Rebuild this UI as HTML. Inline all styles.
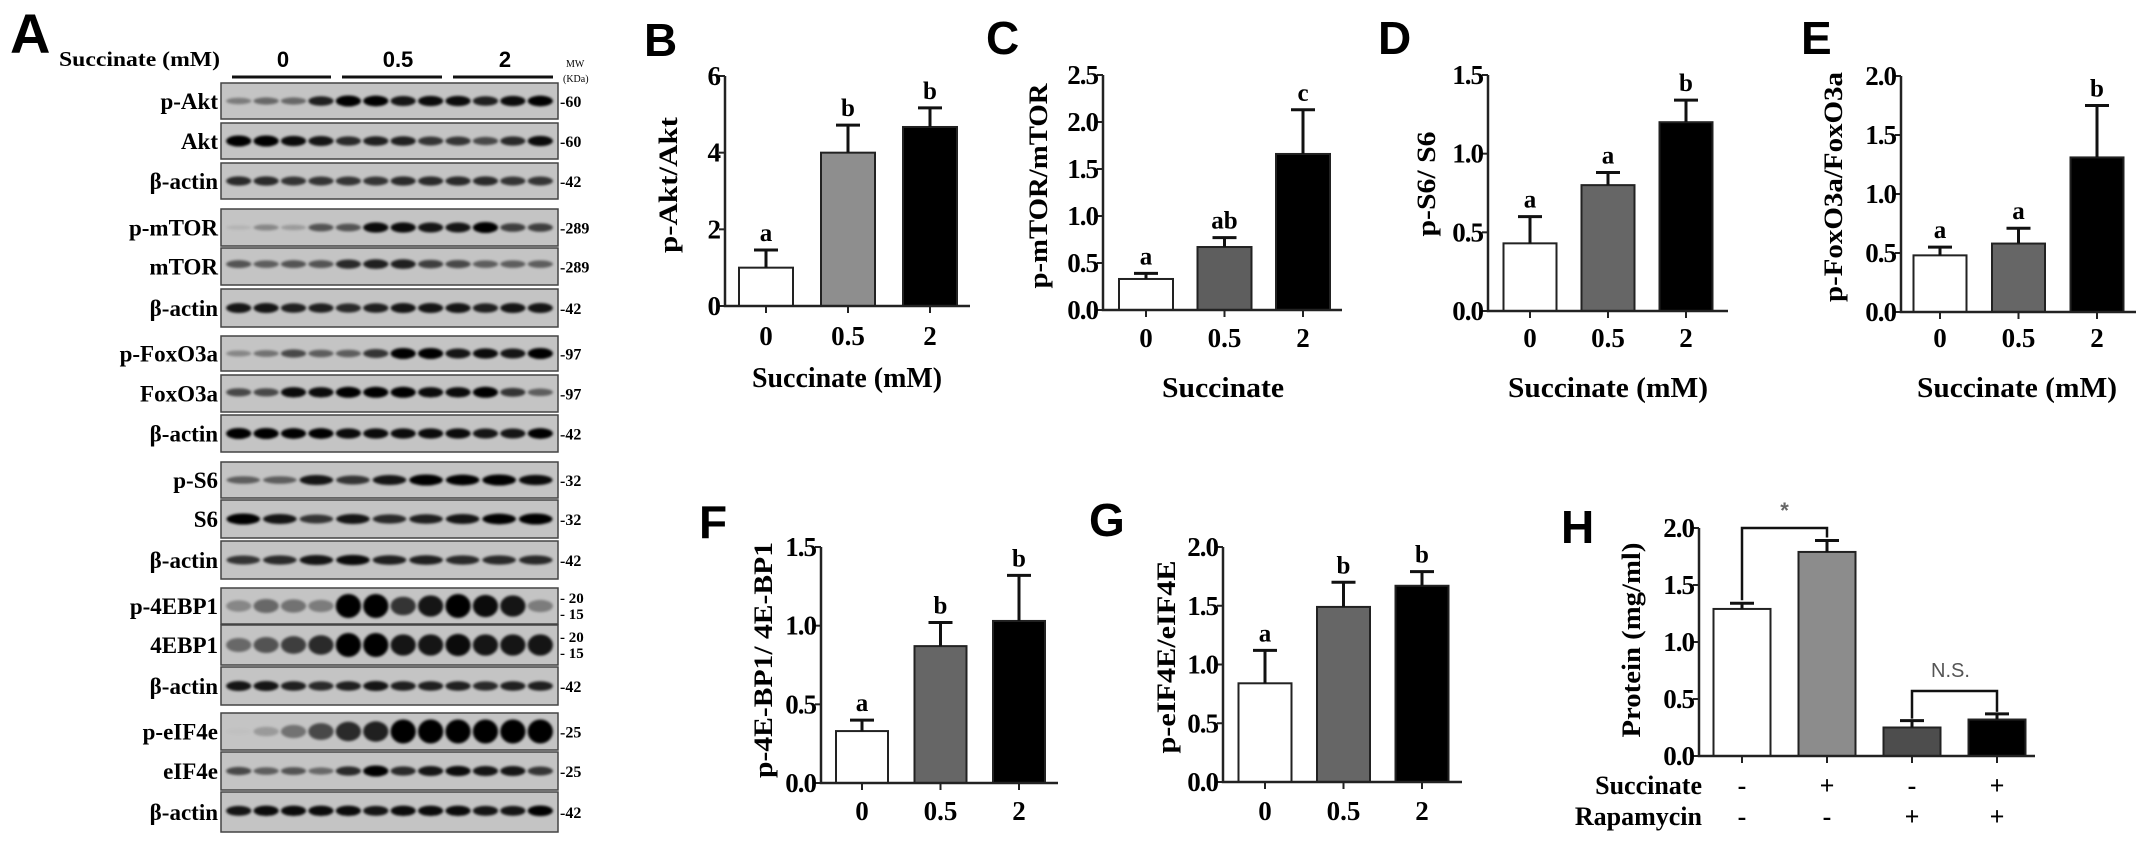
<!DOCTYPE html>
<html><head><meta charset="utf-8"><style>
html,body{margin:0;padding:0;background:#fff;}
svg{display:block;}
.serif{font-family:"Liberation Serif",serif;font-weight:bold;}
.sans{font-family:"Liberation Sans",sans-serif;font-weight:bold;}
</style></head><body>
<svg id="fig" width="2150" height="848" viewBox="0 0 2150 848" xmlns="http://www.w3.org/2000/svg">
<defs><filter id="blur" x="-20%" y="-80%" width="140%" height="260%"><feGaussianBlur stdDeviation="1.4"/></filter></defs>
<g id="blot"></g>
<g id="charts"></g>
</svg>
<script>
const NS="http://www.w3.org/2000/svg";
function mk(tag,attrs,parent,txt){const e=document.createElementNS(NS,tag);for(const k in attrs)e.setAttribute(k,attrs[k]);if(txt!==undefined)e.textContent=txt;parent.appendChild(e);return e;}

/* ---------- Chart data ---------- */
const doseCategories=["0","0.5","2"];
const bValues=[1.0,4.0,4.67];
const bErrors=[1.46,4.72,5.17];
const bLetters=["a","b","b"];
const bTicks=[0,2,4,6];
const bTickLabels=["0","2","4","6"];

const cValues=[0.33,0.67,1.66];
const cErrors=[0.39,0.77,2.13];
const cLetters=["a","ab","c"];
const cTicks=[0,0.5,1,1.5,2,2.5];
const cTickLabels=["0.0","0.5","1.0","1.5","2.0","2.5"];

const dValues=[0.43,0.80,1.20];
const dErrors=[0.60,0.88,1.34];
const dLetters=["a","a","b"];
const dTicks=[0,0.5,1,1.5];
const dTickLabels=["0.0","0.5","1.0","1.5"];

const eValues=[0.48,0.58,1.31];
const eErrors=[0.55,0.71,1.75];
const eLetters=["a","a","b"];
const eTicks=[0,0.5,1,1.5,2];
const eTickLabels=["0.0","0.5","1.0","1.5","2.0"];

const fValues=[0.33,0.87,1.03];
const fErrors=[0.40,1.02,1.32];
const fLetters=["a","b","b"];
const fTicks=[0,0.5,1,1.5];
const fTickLabels=["0.0","0.5","1.0","1.5"];

const gValues=[0.84,1.49,1.67];
const gErrors=[1.12,1.70,1.79];
const gLetters=["a","b","b"];
const gTicks=[0,0.5,1,1.5,2];
const gTickLabels=["0.0","0.5","1.0","1.5","2.0"];

const hCategories=["ctrl","succ","rapa","succ+rapa"];
const hValues=[1.29,1.79,0.25,0.32];
const hErrors=[1.34,1.89,0.31,0.37];
const hSuccinate=["-","+","-","+"];
const hRapamycin=["-","-","+","+"];
const hTicks=[0,0.5,1,1.5,2];
const hTickLabels=["0.0","0.5","1.0","1.5","2.0"];

const charts=document.getElementById('charts');

function drawChart(o){
  const g=mk('g',{},charts);
  
  
  const yMax=o.ticks[o.ticks.length-1];
  const ys=v=>o.y0-(v/yMax)*(o.y0-o.yTop);
  const xs=i=>o.c0+i*o.step;
  const L=mk('text',{x:o.letterX,y:o.letterY,class:'sans','font-size':46},g,o.letter);
  
  
  o.values.forEach((v,i)=>{
    const cx=xs(i);
    const r=mk('rect',{x:cx-o.bw/2,y:ys(v),width:o.bw,height:o.y0-ys(v),fill:o.colors[i],stroke:'#222','stroke-width':2},g);
    
    
    const ey=ys(o.errors[i]);
    const el=mk('path',{d:`M${cx},${ys(v)}V${ey}M${cx-12},${ey}H${cx+12}`,stroke:'#111','stroke-width':3,fill:'none'},g);
    
    
    if(o.letters){
      const t=mk('text',{x:cx,y:ey-9,'text-anchor':'middle',class:'serif','font-size':25},g,o.letters[i]);
      
      
    }
    mk('line',{x1:cx,y1:o.y0,x2:cx,y2:o.y0+7,stroke:'#222','stroke-width':2},g);
    if(o.cats){
      const t=mk('text',{x:cx,y:o.tickLabelY,'text-anchor':'middle',class:'serif','font-size':27},g,o.cats[i]);
      
      
    }
  });
  const ax=mk('path',{d:`M${o.axisX},${ys(yMax)}V${o.y0}H${o.axisEnd}`,stroke:'#222','stroke-width':2.5,fill:'none'},g);
  
  
  o.ticks.forEach((t,i)=>{
    mk('line',{x1:o.axisX-6,y1:ys(t),x2:o.axisX,y2:ys(t),stroke:'#222','stroke-width':2},g);
    const tl=mk('text',{x:o.axisX-5,y:ys(t)+9,'text-anchor':'end',class:'serif','font-size':27,'letter-spacing':'-1'},g,o.tickLabels[i]);
    
    
  });
  const yt=mk('text',{x:0,y:0,'text-anchor':'middle',class:'serif','font-size':26,transform:`translate(${o.ylx},${o.yly}) rotate(-90)`,textLength:o.ylLen,lengthAdjust:'spacingAndGlyphs'},g,o.ylabel);
  
  
  if(o.xlabel){
    const xt=mk('text',{x:o.xlx,y:o.xly,'text-anchor':'middle',class:'serif','font-size':28,textLength:o.xlLen,lengthAdjust:'spacingAndGlyphs'},g,o.xlabel);
    
    
  }
  return {g,xs,ys};
}

drawChart({name:'chart-b-pakt',letter:'B',letterX:644,letterY:56,values:bValues,errors:bErrors,letters:bLetters,cats:doseCategories,ticks:bTicks,tickLabels:bTickLabels,
  axisX:725,y0:306,yTop:76,c0:766,step:82,bw:54,axisEnd:970,tickLabelY:345,colors:['#fff','#8e8e8e','#000'],
  ylabel:'p-Akt/Akt',ylx:677,yly:185,ylLen:136,xlabel:'Succinate (mM)',xlx:847,xly:387,xlLen:190});
drawChart({name:'chart-c-pmtor',letter:'C',letterX:986,letterY:54,values:cValues,errors:cErrors,letters:cLetters,cats:doseCategories,ticks:cTicks,tickLabels:cTickLabels,
  axisX:1103,y0:310,yTop:75,c0:1146,step:78.5,bw:54,axisEnd:1342,tickLabelY:347,colors:['#fff','#5e5e5e','#000'],
  ylabel:'p-mTOR/mTOR',ylx:1047,yly:186,ylLen:205,xlabel:'Succinate',xlx:1223,xly:397,xlLen:122});
drawChart({name:'chart-d-ps6',letter:'D',letterX:1378,letterY:54,values:dValues,errors:dErrors,letters:dLetters,cats:doseCategories,ticks:dTicks,tickLabels:dTickLabels,
  axisX:1488,y0:311,yTop:75,c0:1530,step:78,bw:53,axisEnd:1728,tickLabelY:347,colors:['#fff','#666','#000'],
  ylabel:'p-S6/ S6',ylx:1435,yly:184,ylLen:105,xlabel:'Succinate (mM)',xlx:1608,xly:397,xlLen:200});
drawChart({name:'chart-e-pfoxo3a',letter:'E',letterX:1801,letterY:54,values:eValues,errors:eErrors,letters:eLetters,cats:doseCategories,ticks:eTicks,tickLabels:eTickLabels,
  axisX:1901,y0:312,yTop:76,c0:1940,step:78.5,bw:53,axisEnd:2136,tickLabelY:347,colors:['#fff','#666','#000'],
  ylabel:'p-FoxO3a/FoxO3a',ylx:1842,yly:187,ylLen:230,xlabel:'Succinate (mM)',xlx:2017,xly:397,xlLen:200});
drawChart({name:'chart-f-p4ebp1',letter:'F',letterX:699,letterY:538,values:fValues,errors:fErrors,letters:fLetters,cats:doseCategories,ticks:fTicks,tickLabels:fTickLabels,
  axisX:821,y0:783,yTop:547,c0:862,step:78.5,bw:52,axisEnd:1058,tickLabelY:820,colors:['#fff','#666','#000'],
  ylabel:'p-4E-BP1/ 4E-BP1',ylx:772,yly:660,ylLen:236});
drawChart({name:'chart-g-peif4e',letter:'G',letterX:1089,letterY:536,values:gValues,errors:gErrors,letters:gLetters,cats:doseCategories,ticks:gTicks,tickLabels:gTickLabels,
  axisX:1223,y0:782,yTop:547,c0:1265,step:78.5,bw:53,axisEnd:1462,tickLabelY:820,colors:['#fff','#666','#000'],
  ylabel:'p-eIF4E/eIF4E',ylx:1175,yly:657,ylLen:193});
const H=drawChart({name:'chart-h-protein',letter:'H',letterX:1561,letterY:543,values:hValues,errors:hErrors,letters:null,cats:null,ticks:hTicks,tickLabels:hTickLabels,
  axisX:1699,y0:756,yTop:528,c0:1742,step:85,bw:57,axisEnd:2035,tickLabelY:0,colors:['#fff','#8c8c8c','#4d4d4d','#000'],
  ylabel:'Protein (mg/ml)',ylx:1640,yly:640,ylLen:195});
(function(){
  const g=H.g,xs=H.xs,ys=H.ys;
  const b1=mk('path',{d:`M${xs(0)},${ys(hErrors[0])-3}V${ys(2.0)}H${xs(1)}V${ys(hErrors[1])-3}`,stroke:'#111','stroke-width':2.5,fill:'none'},g);
  
  
  const s=mk('text',{x:(xs(0)+xs(1))/2,y:ys(2.0)-10,'text-anchor':'middle',class:'sans','font-size':22,fill:'#666'},g,'*');
  
  
  const top2=ys(Math.max(hErrors[2],hErrors[3])+0.2);
  const b2=mk('path',{d:`M${xs(2)},${ys(hErrors[2])-2}V${top2}H${xs(3)}V${ys(hErrors[3])-2}`,stroke:'#111','stroke-width':2.5,fill:'none'},g);
  
  
  const ns=mk('text',{x:(xs(2)+xs(3))/2-4,y:top2-14,'text-anchor':'middle','font-family':'"Liberation Sans",sans-serif','font-size':20,fill:'#555'},g,'N.S.');
  
  
  const r1=mk('text',{x:1702,y:794,'text-anchor':'end',class:'serif','font-size':26},g,'Succinate');
  
  
  const r2=mk('text',{x:1702,y:825,'text-anchor':'end',class:'serif','font-size':26},g,'Rapamycin');
  
  
  hSuccinate.forEach((v,i)=>{
    const t=mk('text',{x:xs(i),y:794,'text-anchor':'middle',class:'serif','font-size':26},g,v);
    
    
  });
  hRapamycin.forEach((v,i)=>{
    const t=mk('text',{x:xs(i),y:825,'text-anchor':'middle',class:'serif','font-size':26},g,v);
    
    
  });
})();

/* ---------- Western blot panel ---------- */
const blot=document.getElementById('blot');
const blotRows=[
 {label:'p-Akt',y:83,h:36,mw:['60'],b:[0.35,0.45,0.45,0.8,1,0.95,0.85,0.9,0.9,0.8,0.9,0.95]},
 {label:'Akt',y:123,h:36,mw:['60'],b:[1,1,0.9,0.85,0.75,0.8,0.8,0.7,0.7,0.6,0.75,0.9]},
 {label:'β-actin',y:163,h:36,mw:['42'],b:[0.75,0.75,0.7,0.7,0.7,0.7,0.75,0.75,0.75,0.75,0.7,0.7]},
 {label:'p-mTOR',y:209,h:37,mw:['289'],b:[0.08,0.3,0.2,0.55,0.55,0.9,0.9,0.85,0.85,1,0.65,0.65]},
 {label:'mTOR',y:248,h:37,mw:['289'],b:[0.55,0.5,0.55,0.55,0.75,0.8,0.8,0.65,0.6,0.5,0.5,0.5],off:-8},
 {label:'β-actin',y:289,h:38,mw:['42'],b:[0.85,0.85,0.8,0.8,0.75,0.8,0.85,0.85,0.85,0.8,0.85,0.85]},
 {label:'p-FoxO3a',y:336,h:35,mw:['97'],b:[0.3,0.4,0.6,0.5,0.5,0.7,1,1,0.85,0.9,0.85,1]},
 {label:'FoxO3a',y:375,h:37,mw:['97'],b:[0.6,0.6,0.9,0.9,1,1,1,0.9,0.9,1,0.7,0.5],off:-4},
 {label:'β-actin',y:415,h:37,mw:['42'],b:[1,1,0.95,0.95,0.9,0.9,0.9,0.9,0.9,0.85,0.85,0.95]},
 {label:'p-S6',y:462,h:36,mw:['32'],lanes:9,b:[0.5,0.5,0.85,0.7,0.85,1,0.95,1,0.9]},
 {label:'S6',y:500,h:38,mw:['32'],lanes:9,b:[1,0.85,0.7,0.85,0.75,0.8,0.85,0.95,1]},
 {label:'β-actin',y:541,h:38,mw:['42'],lanes:9,b:[0.7,0.75,0.85,0.9,0.8,0.8,0.75,0.75,0.75]},
 {label:'p-4EBP1',y:588,h:36,mw:['20','15'],b:[0.3,0.45,0.4,0.35,1,1,0.7,0.85,1,0.9,0.85,0.35],tall:true},
 {label:'4EBP1',y:625,h:40,mw:['20','15'],b:[0.45,0.55,0.65,0.75,1,1,0.85,0.85,0.9,0.85,0.85,0.85],tall:true},
 {label:'β-actin',y:667,h:38,mw:['42'],b:[0.85,0.85,0.8,0.75,0.8,0.85,0.8,0.8,0.8,0.75,0.8,0.8]},
 {label:'p-eIF4e',y:713,h:37,mw:['25'],b:[0.02,0.2,0.4,0.6,0.75,0.8,1,1,1,1,1,1],tall:true},
 {label:'eIF4e',y:752,h:38,mw:['25'],b:[0.6,0.5,0.55,0.45,0.75,1,0.75,0.85,0.9,0.85,0.85,0.7]},
 {label:'β-actin',y:792,h:40,mw:['42'],b:[0.85,0.9,0.9,0.9,0.9,0.85,0.9,0.9,0.9,0.85,0.85,0.95],off:-4}
];
(function(){
  const x0=221,x1=558;
  const A=mk('text',{x:10,y:53,class:'sans','font-size':56},blot,'A');
  
  
  const st=mk('text',{x:59,y:66,class:'serif','font-size':21,textLength:161,lengthAdjust:'spacingAndGlyphs'},blot,'Succinate (mM)');
  
  
  [['0',283,232,331],['0.5',398,342,442],['2',505,453,553]].forEach(d=>{
    const t=mk('text',{x:d[1],y:67,'text-anchor':'middle',class:'sans','font-size':22},blot,d[0]);
    
    
    mk('line',{x1:d[2],y1:77,x2:d[3],y2:77,stroke:'#111','stroke-width':3},blot);
  });
  mk('text',{x:566,y:67,'font-family':'"Liberation Serif",serif','font-size':10},blot,'MW');
  mk('text',{x:563,y:82,'font-family':'"Liberation Serif",serif','font-size':10},blot,'(KDa)');
  blotRows.forEach(r=>{
    const g=mk('g',{},blot);
    
    
    mk('rect',{x:x0,y:r.y,width:x1-x0,height:r.h,fill:'#c4c4c4',stroke:'#444','stroke-width':1.5},g);
    const n=r.lanes||12, lw=(x1-x0-8)/n;
    const cy=r.y+r.h/2+(r.off||0)*0.3;
    r.b.forEach((v,i)=>{
      const cx=x0+4+lw*(i+0.5);
      const ry=r.tall? 3+v*9 : 2+v*3.5;
      mk('ellipse',{cx:cx,cy:cy,rx:lw*0.46,ry:ry,fill:'#000','fill-opacity':Math.min(1,v*1.05),filter:'url(#blur)'},g);
    });
    const lbl=mk('text',{x:218,y:r.y+r.h/2+8,'text-anchor':'end',class:'serif','font-size':23},g,r.label);
    
    
    if(r.mw.length===1){
      mk('text',{x:560,y:r.y+r.h/2+6,class:'serif','font-size':16},g,'-'+r.mw[0]);
    } else {
      mk('text',{x:560,y:r.y+r.h/2-3,class:'serif','font-size':15},g,'- '+r.mw[0]);
      mk('text',{x:560,y:r.y+r.h/2+13,class:'serif','font-size':15},g,'- '+r.mw[1]);
    }
  });
})();
</script>
</body></html>
